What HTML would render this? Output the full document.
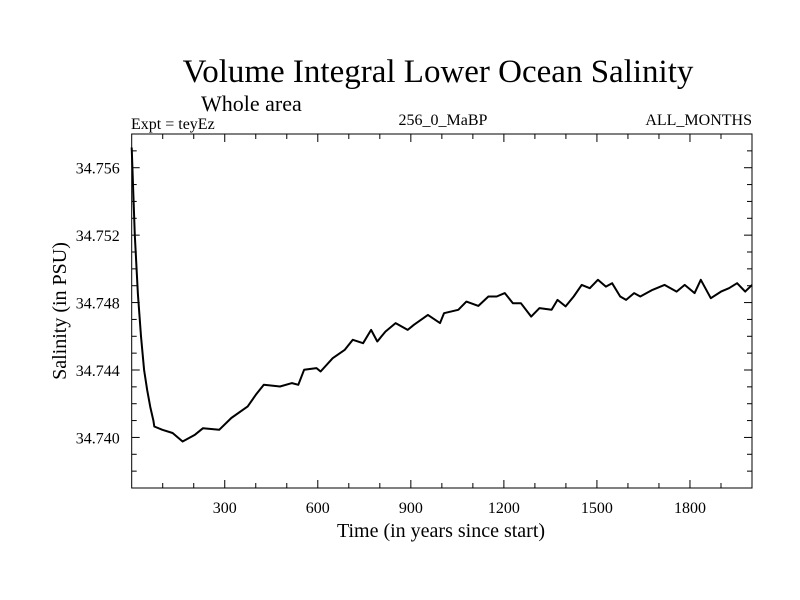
<!DOCTYPE html>
<html><head><meta charset="utf-8"><style>
body{margin:0;background:#fff}
svg{display:block;font-family:"Liberation Serif",serif}
</style></head><body>
<svg id="chart" width="800" height="600" viewBox="0 0 800 600">
<rect width="800" height="600" fill="#fff"/>
<text x="438" y="82" font-size="33" text-anchor="middle">Volume Integral Lower Ocean Salinity</text>
<text x="201" y="111" font-size="22">Whole area</text>
<text x="131" y="129" font-size="16">Expt = teyEz</text>
<text x="443" y="125" font-size="16" text-anchor="middle">256_0_MaBP</text>
<text x="752" y="125" font-size="16" text-anchor="end">ALL_MONTHS</text>
<text transform="translate(66,311) rotate(-90)" font-size="20" text-anchor="middle">Salinity (in PSU)</text>
<text x="441" y="537" font-size="20" text-anchor="middle">Time (in years since start)</text>
<g id="axes"></g>
<g id="series"></g>
</svg>
<script>
const years=[0,5,10,20,30,40,50,60,70,73,99,132,164,204,230,282,321,374,400,426,478,517,537,556,596,609,648,687,713,746,772,792,818,851,890,910,955,994,1007,1053,1079,1118,1150,1177,1203,1229,1255,1288,1315,1354,1373,1399,1425,1451,1477,1503,1529,1549,1575,1594,1620,1640,1679,1718,1757,1783,1815,1835,1867,1900,1926,1952,1978,2000];
const salinity=[34.7572,34.7545,34.7520,34.7485,34.7460,34.7440,34.7428,34.7418,34.7410,34.74065,34.74045,34.74026,34.73976,34.74016,34.74055,34.74045,34.74115,34.74184,34.74253,34.74312,34.74302,34.74322,34.74312,34.74401,34.74411,34.74391,34.7447,34.7452,34.74579,34.74559,34.74638,34.74569,34.74628,34.74678,34.74638,34.74668,34.74727,34.74678,34.74737,34.74757,34.74806,34.7478,34.74836,34.74836,34.74856,34.74796,34.74796,34.74717,34.74767,34.74757,34.74816,34.74777,34.74836,34.74905,34.74885,34.74935,34.74895,34.74915,34.74836,34.74816,34.74856,34.74836,34.74875,34.74905,34.74865,34.74905,34.74856,34.74935,34.74826,34.74865,34.74885,34.74915,34.74865,34.74905];
const xTicks=[300,600,900,1200,1500,1800];
const yTicks=[34.740,34.744,34.748,34.752,34.756];
const X0=131.7,X1=752,Y0=488,Y1=134,XMIN=0,XMAX=2000,YMIN=34.7370,YMAX=34.7580;
const sx=v=>X0+(v-XMIN)/(XMAX-XMIN)*(X1-X0);
const sy=v=>Y0-(v-YMIN)/(YMAX-YMIN)*(Y0-Y1);
const NS='http://www.w3.org/2000/svg';
const axes=document.getElementById('axes'),series=document.getElementById('series');
function mk(t,a,p){const e=document.createElementNS(NS,t);for(const k in a)e.setAttribute(k,a[k]);p.appendChild(e);return e;}
const frame=mk('rect',{x:X0,y:Y1,width:X1-X0,height:Y0-Y1,fill:'none',stroke:'#000','stroke-width':1},axes);


for(let v=100;v<XMAX;v+=100){const x=sx(v),L=(v%300===0)?8:5;
 const t1=mk('line',{x1:x,x2:x,y1:Y0,y2:Y0-L,stroke:'#000'},axes);
 
 
 const t2=mk('line',{x1:x,x2:x,y1:Y1,y2:Y1+L,stroke:'#000'},axes);
 
 }
xTicks.forEach(v=>{const t=mk('text',{x:sx(v),y:Y0+25,'font-size':16,'text-anchor':'middle'},axes);t.textContent=v;
 
 });
for(let i=38;i<=57;i++){const v=34.7+i/1000,y=sy(v),L=(i%4===0)?8:5;
 const t1=mk('line',{x1:X0,x2:X0+L,y1:y,y2:y,stroke:'#000'},axes);
 
 
 const t2=mk('line',{x1:X1,x2:X1-L,y1:y,y2:y,stroke:'#000'},axes);
 
 }
yTicks.forEach(v=>{const t=mk('text',{x:X0-12,y:sy(v)+6,'font-size':16,'text-anchor':'end'},axes);t.textContent=v.toFixed(3);
 
 });
const pts=years.map((y,i)=>sx(y).toFixed(1)+','+sy(salinity[i]).toFixed(1)).join(' ');
const line=mk('polyline',{points:pts,fill:'none',stroke:'#000','stroke-width':2,'stroke-linejoin':'round'},series);


</script>
</body></html>
